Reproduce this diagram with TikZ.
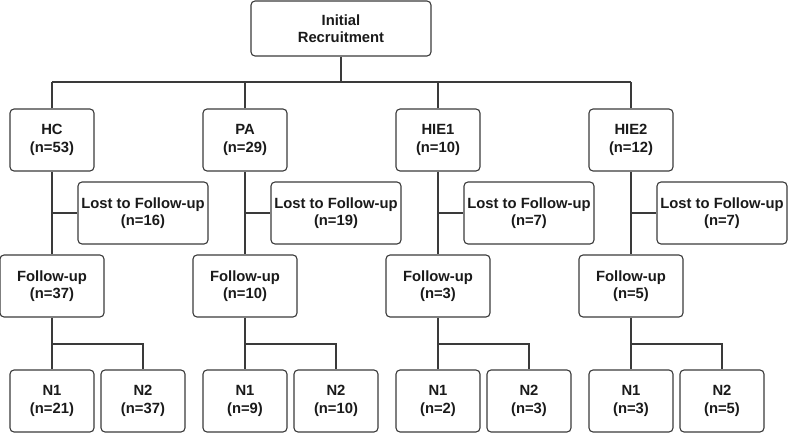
\documentclass[tikz,border=0pt]{standalone}
\usepackage{fontspec}
\setmainfont{Liberation Sans}
\definecolor{linec}{HTML}{3A3A3A}
\definecolor{textc}{HTML}{1A1A1A}
\begin{document}
\begin{tikzpicture}[x=1pt,y=-1pt,
  box/.style={draw=linec, line width=1.1pt, rounded corners=4pt, align=center,
    text=textc, font=\bfseries\fontsize{14.8}{17.5}\selectfont, inner sep=0pt,
    minimum height=62pt},
  conn/.style={draw=linec, line width=1.1pt}]
\useasboundingbox (0,0) rectangle (788,433);
\node[box, minimum width=180pt, minimum height=55pt] (init) at (341,28.5) {Initial\\Recruitment};
\coordinate (top) at (341,82);
\foreach \i/\c/\g/\ng/\nl/\nf/\na/\nb in {1/52/HC/53/16/37/21/37, 2/245/PA/29/19/10/9/10, 3/438/HIE1/10/7/3/2/3, 4/631/HIE2/12/7/5/3/5}{
  \node[box, minimum width=84pt] (g\i) at (\c,140) {\g\\(n=\ng)};
  \node[box, minimum width=130pt] (l\i) at (\c+91,213) {Lost to Follow-up\\(n=\nl)};
  \node[box, minimum width=104pt] (f\i) at (\c,286) {Follow-up\\(n=\nf)};
  \node[box, minimum width=84pt] (a\i) at (\c,401) {N1\\(n=\na)};
  \node[box, minimum width=84pt] (b\i) at (\c+91,401) {N2\\(n=\nb)};
  \coordinate (br\i) at (\c,344);
  \draw[conn] (g\i.north) -- (g\i.north |- top);
  \draw[conn] (g\i.south) -- (f\i.north);
  \draw[conn] (g\i.south |- l\i.west) -- (l\i.west);
  \draw[conn] (f\i.south) -- (a\i.north);
  \draw[conn] (br\i) -| (b\i.north);
}
\draw[conn] (init.south) -- (top);
\draw[conn] (g1.north |- top) -- (g4.north |- top);
\end{tikzpicture}
\end{document}
